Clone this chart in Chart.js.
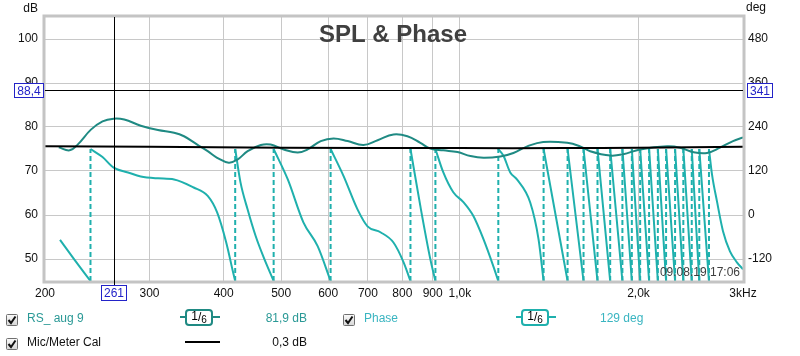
<!DOCTYPE html>
<html>
<head>
<meta charset="utf-8">
<script src="https://cdn.jsdelivr.net/npm/chart.js@4.4.1/dist/chart.umd.min.js"></script>
<style>
html,body{margin:0;padding:0;background:#fff;width:800px;height:356px;overflow:hidden;font-family:"Liberation Sans",Arial,sans-serif;}
#wrap{position:relative;width:800px;height:356px;}
#c{position:absolute;left:0;top:0;}
.lg{position:absolute;font-size:12px;line-height:14px;white-space:nowrap;}
.cb{position:absolute;width:12px;height:12px;}
.ico{position:absolute;width:40px;height:17px;}
.ico .stub{position:absolute;left:0;top:7px;width:40px;height:2px;}
.ico .box{position:absolute;left:5px;top:0;width:24px;height:13px;border-radius:4px;background:#fff;font-size:12px;line-height:13px;color:#000;text-align:center;}
.ico .box .n{position:relative;top:-1px;}
.ico .box .d{position:relative;top:2px;font-size:10px;}
</style>
</head>
<body>
<div id="wrap">
<canvas id="c" width="800" height="356"></canvas>
</div>
<script>
// ---- data ----
const freqTicks = [200, 300, 400, 500, 600, 700, 800, 900, 1000, 2000, 3000];
const freqTickLabels = ['200', '300', '400', '500', '600', '700', '800', '900', '1,0k', '2,0k', '3kHz'];
const splTicks = [50, 60, 70, 80, 90, 100];
const degTicks = [-120, 0, 120, 240, 360, 480];

const splFreq = [211, 220, 227, 239, 250, 261, 272, 290, 310, 330, 343, 361, 376, 390, 408, 422, 439, 462, 480, 505, 533, 554, 583, 613, 647, 688, 727, 773, 816, 858, 892, 938, 991, 1042, 1096, 1170, 1231, 1299, 1382, 1517, 1595, 1658, 1792, 1884, 2013, 2235, 2350, 2471, 2609, 2744, 2886, 3000];
const splDb = [75.4, 74.7, 76.0, 79.4, 81.3, 81.9, 81.7, 80.3, 79.3, 78.7, 77.9, 76.0, 74.5, 73.0, 71.9, 72.6, 74.5, 75.9, 76.0, 74.9, 74.2, 74.9, 76.8, 77.4, 76.8, 75.9, 77.0, 78.3, 77.9, 76.4, 75.1, 74.7, 74.3, 73.4, 73.0, 73.3, 74.1, 75.6, 76.6, 76.4, 75.6, 74.5, 73.5, 73.8, 74.9, 75.6, 75.3, 74.3, 74.1, 75.3, 76.8, 77.6];

const phaseFreq = [
  212, 224, 238.6,
  238.6, 250, 261, 276, 290, 310, 330, 356, 376, 390, 404, 415, 418.3,
  418.3, 427, 439, 453, 467, 485.6,
  485.6, 513, 545, 576, 605.7,
  605.7, 637, 672, 699, 735, 773, 804, 825.7,
  825.7, 858, 892, 909.6,
  909.6, 938, 975, 1014, 1054, 1096, 1139, 1161,
  1161, 1185, 1216, 1248, 1314, 1357, 1384,
  1384, 1519, 1519, 1616, 1616, 1706, 1706, 1792, 1792, 1879,
  1879, 1949, 1949, 2013, 2013, 2084, 2084, 2156, 2156, 2226,
  2226, 2305, 2305, 2380, 2380, 2459, 2459, 2532, 2532, 2629,
  2629, 2660, 2712, 2776, 2852, 2930, 3000
];
const phaseDeg = [
  -68, -121, -180,
  180, 158, 129, 116, 105, 100, 97, 75, 52, 7, -75, -157, -180,
  180, 89, 15, -58, -115, -180,
  180, 97, -20, -85, -180,
  180, 106, 16, -31, -47, -75, -129, -180,
  180, 24, -121, -180,
  180, 116, 62, 35, -3, -66, -140, -180,
  180, 161, 116, 97, 34, -66, -180,
  180, -180, 180, -180, 180, -180, 180, -180, 180, -180,
  180, -180, 180, -180, 180, -180, 180, -180, 180, -180,
  180, -180, 180, -180, 180, -180, 180, -180, 180, -180,
  180, 111, 37, -44, -99, -129, -148
];

const calFreq = [200, 300, 500, 1000, 1500, 2000, 3000];
const calDb = [75.6, 75.5, 75.3, 75.2, 75.2, 75.3, 75.5];

const cursorFreq = 261;
const cursorDb = 88.4;
const cursorLabels = {freq: '261', db: '88,4', deg: '341'};
const seriesNames = ['RS_ aug 9', 'Phase', 'Mic/Meter Cal'];
const seriesValues = ['81,9 dB', '129 deg', '0,3 dB'];
const titleText = 'SPL & Phase';
const stampText = '09.08.19 17:06';

// ---- styles ----
const splColor = '#1f8a83';
const phaseColor = '#1fb0ad';
const rsText = '#2a9996';
const phText = '#3ab5c1';
const gridColor = '#c8c8c8';
const boxBlue = '#2323c8';
const FONT = 'Liberation Sans, Arial, sans-serif';

const toXY = (xs, ys) => xs.map((x, i) => ({x: x, y: ys[i]}));

// split the wrapped phase into continuous runs (solid) and wrap jumps (dashed)
const phaseSolid = [];
const phaseWraps = [];
for (let i = 0; i < phaseFreq.length; i++) {
  phaseSolid.push({x: phaseFreq[i], y: phaseDeg[i]});
  if (i + 1 < phaseFreq.length && phaseDeg[i + 1] - phaseDeg[i] > 200) {
    phaseSolid.push({x: phaseFreq[i], y: null});
    phaseWraps.push({x: phaseFreq[i], y: phaseDeg[i]});
    phaseWraps.push({x: phaseFreq[i + 1], y: phaseDeg[i + 1]});
    phaseWraps.push({x: phaseFreq[i + 1], y: null});
  }
}

const overlay = {
  id: 'overlay',
  afterDraw(chart) {
    const {ctx, chartArea: a, scales} = chart;
    ctx.save();
    // frame
    ctx.strokeStyle = '#c4c4c4';
    ctx.lineWidth = 3;
    ctx.strokeRect(a.left - 1, a.top - 1, a.right - a.left + 2, a.bottom - a.top + 2);

    // title
    ctx.fillStyle = '#404040';
    ctx.font = 'bold 24px ' + FONT;
    ctx.textAlign = 'center';
    ctx.textBaseline = 'alphabetic';
    ctx.fillText(titleText, 393, 42);

    // cursors
    const cxr = Math.round(scales.x.getPixelForValue(cursorFreq));
    const cyr = Math.floor(scales.y.getPixelForValue(cursorDb));
    const cx = cxr + 0.5, cy = cyr + 0.5;
    ctx.strokeStyle = '#000';
    ctx.lineWidth = 1;
    ctx.beginPath();
    ctx.moveTo(cx, a.top); ctx.lineTo(cx, a.bottom + 4);
    ctx.moveTo(a.left, cy); ctx.lineTo(a.right, cy);
    ctx.stroke();

    // date stamp
    ctx.font = '12px ' + FONT;
    ctx.fillStyle = '#404040';
    ctx.textAlign = 'right';
    ctx.fillText(stampText, a.right - 3, a.bottom - 5);

    // axis unit labels
    ctx.fillStyle = '#111';
    ctx.textAlign = 'right';
    ctx.fillText('dB', 38, 12);
    ctx.textAlign = 'left';
    ctx.fillText('deg', 746, 11);

    // cursor value boxes
    function box(x, y, w, h, txt) {
      ctx.fillStyle = '#fff';
      ctx.fillRect(x, y, w, h);
      ctx.strokeStyle = boxBlue;
      ctx.lineWidth = 1;
      ctx.strokeRect(x + 0.5, y + 0.5, w - 1, h - 1);
      ctx.fillStyle = boxBlue;
      ctx.font = '12px ' + FONT;
      ctx.textAlign = 'center';
      ctx.textBaseline = 'middle';
      ctx.fillText(txt, x + w / 2, y + h / 2 + 1);
    }
    box(14, cyr - 7, 30, 15, cursorLabels.db);
    box(747, cyr - 7, 26, 15, cursorLabels.deg);
    box(cxr - 13, a.bottom + 4, 26, 16, cursorLabels.freq);
    ctx.restore();
  }
};

const tickFont = {family: FONT, size: 12};

new Chart(document.getElementById('c'), {
  type: 'line',
  data: {
    datasets: [
      {label: seriesNames[2], data: toXY(calFreq, calDb), yAxisID: 'y', borderColor: '#000', borderWidth: 2, pointRadius: 0, tension: 0.4, order: 0},
      {label: seriesNames[0], data: toXY(splFreq, splDb), yAxisID: 'y', borderColor: splColor, borderWidth: 2, pointRadius: 0, tension: 0.4, order: 1},
      {label: seriesNames[1], data: phaseSolid, yAxisID: 'y2', borderColor: phaseColor, borderWidth: 2, pointRadius: 0,
        cubicInterpolationMode: 'monotone', spanGaps: false, order: 2},
      {label: seriesNames[1] + ' wrap', data: phaseWraps, yAxisID: 'y2', borderColor: phaseColor, borderWidth: 2, pointRadius: 0,
        tension: 0, spanGaps: false, borderDash: [5, 3], order: 3}
    ]
  },
  options: {
    responsive: false,
    animation: false,
    devicePixelRatio: 1,
    layout: {padding: {top: 17, left: 0, right: 0, bottom: 0}},
    plugins: {legend: {display: false}, tooltip: {enabled: false}, title: {display: false}},
    scales: {
      x: {
        type: 'logarithmic', position: 'bottom', min: 200, max: 3000,
        afterBuildTicks: s => { s.ticks = freqTicks.map(v => ({value: v})); },
        afterFit: s => { s.height = 75; },
        ticks: {autoSkip: false, maxRotation: 0, minRotation: 0, padding: 5, color: '#111', font: tickFont,
          callback: (v, i) => freqTickLabels[i]},
        grid: {drawTicks: false, lineWidth: 1,
          color: c => (c.tick && (c.tick.value === 200 || c.tick.value === 3000)) ? 'rgba(0,0,0,0)' : gridColor},
        border: {display: false}
      },
      y: {
        type: 'linear', position: 'left', min: 45, max: 105,
        afterBuildTicks: s => { s.ticks = splTicks.map(v => ({value: v})); },
        afterFit: s => { s.width = 45; },
        ticks: {padding: 7, color: '#111', font: tickFont},
        grid: {drawTicks: false, color: gridColor, lineWidth: 1},
        border: {display: false}
      },
      y2: {
        type: 'linear', position: 'right', min: -180, max: 540,
        afterBuildTicks: s => { s.ticks = degTicks.map(v => ({value: v})); },
        afterFit: s => { s.width = 57; },
        ticks: {padding: 5, color: '#111', font: tickFont},
        grid: {display: false, drawTicks: false},
        border: {display: false}
      }
    }
  },
  plugins: [overlay]
});

// ---- legend (HTML) ----
const wrap = document.getElementById('wrap');
function checkbox(left, top) {
  const d = document.createElement('div');
  d.className = 'cb';
  d.style.left = left + 'px'; d.style.top = top + 'px';
  d.innerHTML = '<svg width="12" height="12" viewBox="0 0 12 12"><defs><linearGradient id="g" x1="0" y1="0" x2="0" y2="1"><stop offset="0" stop-color="#fbfbfb"/><stop offset="1" stop-color="#d6d6d6"/></linearGradient></defs><rect x="0.5" y="0.5" width="11" height="11" rx="1" fill="url(#g)" stroke="#707070"/><polyline points="2.5,6 5,9 9.5,2.5" fill="none" stroke="#111" stroke-width="2"/></svg>';
  wrap.appendChild(d);
}
function text(left, top, txt, color, width, align) {
  const d = document.createElement('div');
  d.className = 'lg';
  d.style.left = left + 'px'; d.style.top = top + 'px'; d.style.color = color;
  if (width) { d.style.width = width + 'px'; d.style.textAlign = align; }
  d.textContent = txt;
  wrap.appendChild(d);
}
function icon(left, top, color) {
  const d = document.createElement('div');
  d.className = 'ico';
  d.style.left = left + 'px'; d.style.top = top + 'px';
  d.innerHTML = '<div class="stub" style="background:' + color + '"></div><div class="box" style="border:2px solid ' + color + '"><span class="n">1</span>/<span class="d">6</span></div>';
  wrap.appendChild(d);
}
checkbox(6, 312);
text(27, 311, seriesNames[0], rsText);
icon(180, 309, splColor);
text(207, 311, seriesValues[0], rsText, 100, 'right');
checkbox(343, 312);
text(364, 311, seriesNames[1], phText);
icon(516, 309, phaseColor);
text(600, 311, seriesValues[1], phText);

checkbox(6, 336);
text(27, 335, seriesNames[2], '#111');
const bl = document.createElement('div');
bl.style.cssText = 'position:absolute;left:185px;top:341px;width:35px;height:2px;background:#000;';
wrap.appendChild(bl);
text(207, 335, seriesValues[2], '#111', 100, 'right');
</script>
</body>
</html>
